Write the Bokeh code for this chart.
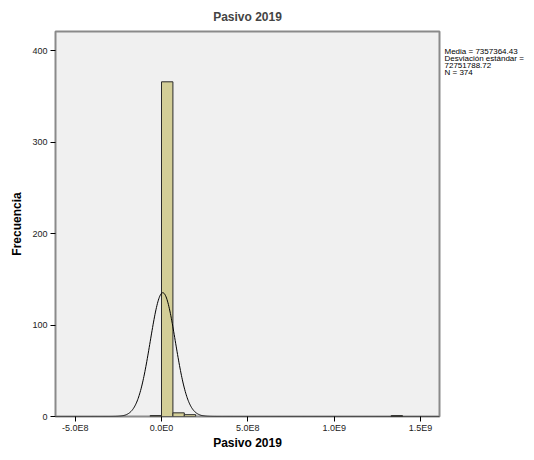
import numpy as np
from bokeh.plotting import figure
from bokeh.models import Range1d, FixedTicker, LinearAxis
from bokeh.embed import file_html
from bokeh.resources import INLINE

# Histogram data
bin_left = [-6.6e7, 0.0, 6.6e7, 1.32e8, 1.33e9]
bin_width = 6.6e7
counts = [1, 366, 4, 2, 1]

mean = 7357364.43
std = 72751788.72
n = 374

x_ticks = [-5e8, 0, 5e8, 1e9, 1.5e9]
x_tick_labels = ["-5.0E8", "0.0E0", "5.0E8", "1.0E9", "1.5E9"]
y_ticks = [0, 100, 200, 300, 400]

stats_lines = ["Media = 7357364.43", "Desviación estándar =", "72751788.72", "N = 374"]
stats_y = [399, 391.3, 383.6, 375.9]

FONT = "Liberation Sans"

p = figure(frame_width=384, frame_height=385, output_backend="svg", toolbar_location=None,
           x_range=Range1d(-6.14e8, 1.61e9), y_range=Range1d(0, 421),
           min_border_left=55, min_border_right=95, min_border_top=30, min_border_bottom=45)

p.background_fill_color = "#f0f0f0"
p.border_fill_color = "white"
p.outline_line_color = "#8a8a8a"
p.outline_line_width = 2
p.grid.visible = False

# bars
lefts = np.array(bin_left)
p.quad(left=lefts, right=lefts + bin_width, bottom=0, top=counts,
       fill_color="#d3ce97", line_color="#2b2b2b", line_width=1)

# normal curve from stated mean / sd
xs = np.linspace(-6.14e8, 1.61e9, 800)
ys = n * bin_width / (std * np.sqrt(2 * np.pi)) * np.exp(-0.5 * ((xs - mean) / std) ** 2)
p.line(xs, ys, line_color="black", line_width=1)

# title
p.title.text = "Pasivo 2019"
p.title.align = "center"
p.title.vertical_align = "bottom"
p.title.text_font = FONT
p.title.text_font_size = "12px"
p.title.text_font_style = "bold"
p.title.standoff = 15

# axes
for ax in (p.xaxis[0], p.yaxis[0]):
    ax.axis_line_color = None
    ax.major_tick_line_color = "black"
    ax.major_tick_in = 0
    ax.major_tick_out = 5
    ax.minor_tick_line_color = None
    ax.major_label_text_font = FONT
    ax.major_label_text_font_size = "9px"
    ax.major_label_text_color = "#222222"
    ax.axis_label_text_font = FONT
    ax.axis_label_text_font_size = "12px"
    ax.axis_label_text_font_style = "bold"
    ax.axis_label_text_color = "black"

p.xaxis.ticker = FixedTicker(ticks=x_ticks)
p.xaxis.major_label_overrides = {t: l for t, l in zip(x_ticks, x_tick_labels)}
p.xaxis.axis_label = "Pasivo 2019"
p.xaxis.major_label_standoff = 1
p.xaxis.axis_label_standoff = 0

p.yaxis.ticker = FixedTicker(ticks=y_ticks)
p.yaxis.axis_label = "Frecuencia"
p.yaxis.major_label_standoff = 3
p.yaxis.axis_label_standoff = 5

# stats text at right, drawn as an unticked axis
stats_axis = LinearAxis(ticker=FixedTicker(ticks=stats_y),
                        major_label_overrides={y: t for y, t in zip(stats_y, stats_lines)})
stats_axis.axis_line_color = None
stats_axis.major_tick_line_color = None
stats_axis.minor_tick_line_color = None
stats_axis.major_tick_out = 0
stats_axis.major_tick_in = 0
stats_axis.major_label_standoff = 5
stats_axis.major_label_text_font = FONT
stats_axis.major_label_text_font_size = "8px"
stats_axis.major_label_text_color = "black"
p.add_layout(stats_axis, "right")

open("out.html", "w").write(file_html(p, INLINE))
